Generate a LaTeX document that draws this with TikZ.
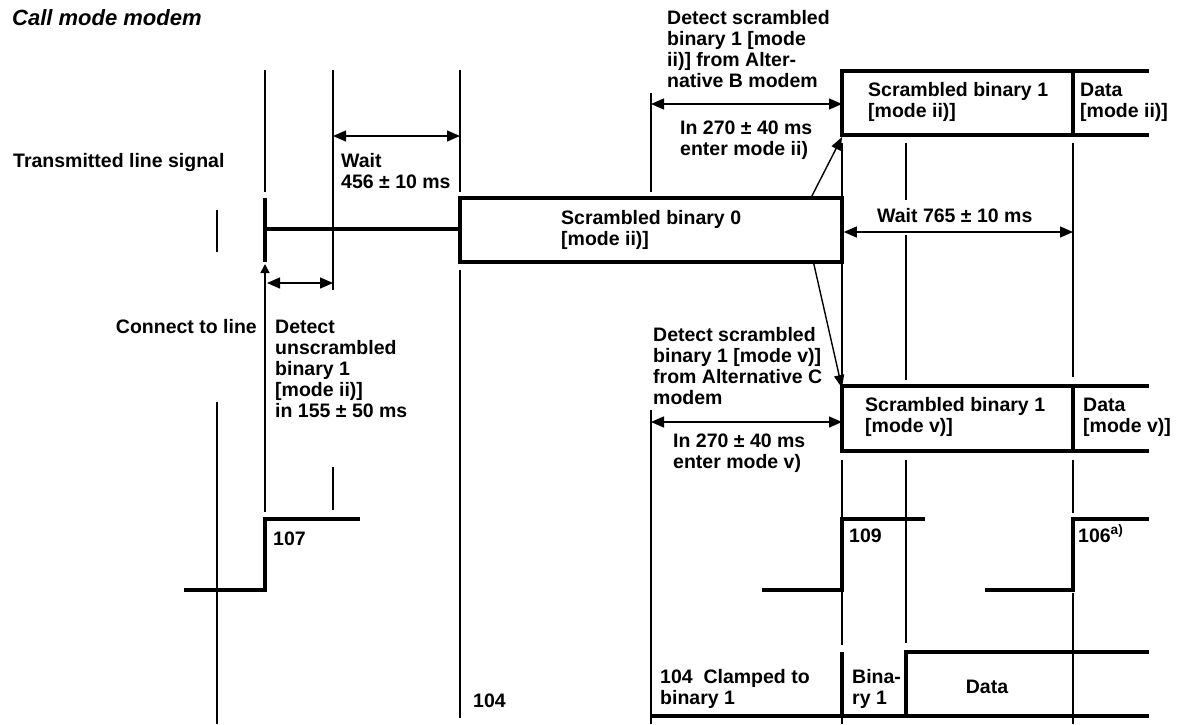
\documentclass[tikz,border=0pt]{standalone}
\usepackage{fontspec}
\setmainfont{Liberation Sans}
\usetikzlibrary{arrows.meta}

\begin{document}
\begin{tikzpicture}[
  x=1pt, y=-1pt,
  font=\fontsize{19.5}{21}\selectfont\bfseries,
  thin/.style={line width=1.4pt},
  sig/.style={line width=3.6pt},
  arr/.style={line width=1.4pt, -{Triangle[length=13pt, width=10pt]}},
  dim/.style={line width=1.4pt,
              {Triangle[length=13pt, width=11pt]}-{Triangle[length=13pt, width=11pt]}},
  lab/.style={inner sep=0pt, anchor=base west, align=left}
]
\useasboundingbox (0,0) rectangle (1184,724);
% thin vertical guides
\draw[thin] (217,210) -- (217,252) (217,402) -- (217,724);
\draw[thin] (265,70) -- (265,192) (265,290) -- (265,512);
\draw[thin] (333,70) -- (333,290) (333,467) -- (333,510);
\draw[thin] (460,70) -- (460,192) (460,270) -- (460,718);
\draw[thin] (651,93) -- (651,192) (651,410) -- (651,724);
\draw[thin] (842,143) -- (842,377) (842,460) -- (842,645) (842,716) -- (842,724);
\draw[thin] (906,143) -- (906,200) (906,235) -- (906,380) (906,460) -- (906,643);
\draw[thin] (1073,143) -- (1073,377) (1073,460) -- (1073,513) (1073,593) -- (1073,724);
% transmitted line signal
\draw[sig] (265,198) -- (265,262);
\draw[sig] (265,229) -- (460,229);
\node[draw, line width=3.6pt, minimum width=382pt, minimum height=64pt, inner sep=0pt]
  (scr0) at (651,230) {};
\node[lab] (scr0t) at (561,245) {Scrambled binary 0\\{[}mode ii)]};
\coordinate (upSW) at (842,135);
\coordinate (loNW) at (842,386);
\draw[sig] (1149,71) -- (842,71) -- (upSW) -- (1149,135);
\draw[sig] (1073,71) -- (1073,135);
\draw[sig] (1149,386) -- (loNW) -- (842,451) -- (1149,451);
\draw[sig] (1073,386) -- (1073,451);
% circuit states
\draw[sig] (184,590) -- (265,590) -- (265,519) -- (360,519);
\draw[sig] (762,590) -- (842,590) -- (842,519) -- (925,519);
\draw[sig] (985,590) -- (1073,590) -- (1073,519) -- (1149,519);
\draw[sig] (651,716) -- (1149,716);
\draw[sig] (842,652) -- (842,716);
\draw[sig] (906,716) -- (906,652) -- (1149,652);
% timing arrows
\draw[dim] (333,136) -- (460,136);
\draw[dim] (267,283) -- (333,283);
\draw[line width=1.4pt, -{Triangle[length=9pt, width=9pt]}] (265,292) -- (265,264);
\draw[dim] (651,104) -- (842,104);
\draw[dim] (scr0.east |- 0,232) -- (1073,232);
\draw[dim] (651,422) -- (842,422);
\draw[arr] ([xshift=-32pt]scr0.north east) -- ([yshift=-2pt]upSW);
\draw[arr] ([xshift=-30pt]scr0.south east) -- ([yshift=-2pt]loNW);
% labels (base = last line)
\node[lab, font=\fontsize{22}{26}\selectfont\bfseries\itshape] (title) at (12,25) {Call mode modem};
\node[lab] (tls) at (13,167) {Transmitted line signal};
\node[lab] (w456) at (341,188) {Wait\\456 ± 10 ms};
\node[lab, anchor=base east] (ctl) at (257,333) {Connect to line};
\node[lab] (dub) at (275,417) {Detect\\unscrambled\\binary 1\\{[}mode ii)]\\in 155 ± 50 ms};
\node[lab] (l107) at (273,545) {107};
\node[lab] (l104a) at (473,707) {104};
\node[lab] (dsbB) at (667,87) {Detect scrambled\\binary 1 {[}mode\\ii)] from Alter-\\native B modem};
\node[lab] (t270b) at (680,155) {In 270 ± 40 ms\\enter mode ii)};
\node[lab] (sb1b) at (868,117) {Scrambled binary 1\\{[}mode ii)]};
\node[lab] (datb) at (1080,117) {Data\\{[}mode ii)]};
\node[lab] (w765) at (877,222) {Wait 765 ± 10 ms};
\node[lab] (dsbC) at (653,404) {Detect scrambled\\binary 1 {[}mode v)]\\from Alternative C\\modem};
\node[lab] (t270c) at (673,468) {In 270 ± 40 ms\\enter mode v)};
\node[lab] (sb1c) at (865,432) {Scrambled binary 1\\{[}mode v)]};
\node[lab] (datc) at (1083,432) {Data\\{[}mode v)]};
\node[lab] (l109) at (849,542) {109};
\node[lab] (l106) at (1078,542) {106\textsuperscript{a)}};
\node[lab] (clmp) at (660,704) {104\ \ Clamped to\\binary 1};
\node[lab] (bin1) at (852,704) {Bina-\\ry 1};
\node[lab, anchor=base] (dat) at (987,693) {Data};
\end{tikzpicture}
\end{document}
